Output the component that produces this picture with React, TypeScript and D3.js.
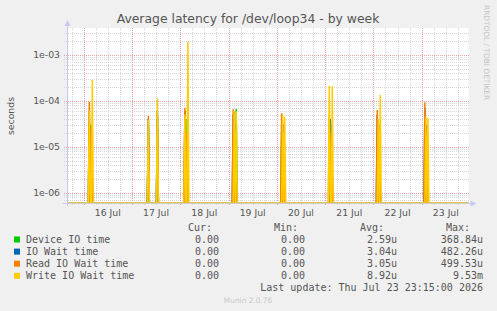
import React from 'react';
import * as d3 from 'd3';

// plot box (pixels)
const W = 497;
const H = 311;
const plot = { left: 67, right: 468.5, top: 28, bottom: 203 };

// time axis
const timeDomain = ['2026-07-15T15:45:00Z', '2026-07-23T23:15:00Z'];
const dayLabels = ['16 Jul', '17 Jul', '18 Jul', '19 Jul', '20 Jul', '21 Jul', '22 Jul', '23 Jul'];
const dayCentres = [
  '2026-07-16T12:00:00Z', '2026-07-17T12:00:00Z', '2026-07-18T12:00:00Z', '2026-07-19T12:00:00Z',
  '2026-07-20T12:00:00Z', '2026-07-21T12:00:00Z', '2026-07-22T12:00:00Z', '2026-07-23T12:00:00Z',
];

// value axis (log)
const yDomain = [5.97e-7, 3.805e-3];
const yTickValues = [1e-6, 1e-5, 1e-4, 1e-3];
const yTickLabels = ['1e-06', '1e-05', '1e-04', '1e-03'];

// legend
const seriesNames = ['Device IO time', 'IO Wait time', 'Read IO Wait time', 'Write IO Wait time'];
const seriesColors = ['#00cc00', '#0066b3', '#ff8000', '#ffcc00'];
const curValues = ['0.00', '0.00', '0.00', '0.00'];
const minValues = ['0.00', '0.00', '0.00', '0.00'];
const avgValues = ['2.59u', '3.04u', '3.05u', '8.92u'];
const maxValues = ['368.84u', '482.26u', '499.53u', '9.53m'];
const lastUpdate = 'Last update: Thu Jul 23 23:15:00 2026';

// non-zero samples (everything else is 0)
const deviceIO: [string, number][] = [
  ['2026-07-16T03:20', 3e-5],
  ['2026-07-17T08:10', 3e-5], ['2026-07-17T12:40', 4e-5],
  ['2026-07-18T02:50', 4e-5],
  ['2026-07-19T03:50', 6.6e-5],
  ['2026-07-20T02:25', 3e-5],
  ['2026-07-21T03:05', 3e-5],
  ['2026-07-22T02:25', 3e-5],
  ['2026-07-23T02:05', 3e-5],
];
const ioWait: [string, number][] = [
  ['2026-07-16T02:50', 6e-5], ['2026-07-16T03:50', 2e-5],
  ['2026-07-17T08:10', 4e-5], ['2026-07-17T12:40', 6e-5],
  ['2026-07-18T02:20', 6e-5], ['2026-07-18T03:20', 2e-5],
  ['2026-07-19T02:20', 5e-5], ['2026-07-19T03:20', 3e-5],
  ['2026-07-20T03:25', 3e-5],
  ['2026-07-21T02:35', 4e-5],
  ['2026-07-22T01:55', 5e-5], ['2026-07-22T02:55', 3e-5],
  ['2026-07-23T01:35', 7e-5], ['2026-07-23T02:35', 3e-5],
];
const readIO: [string, number][] = [
  ['2026-07-16T02:50', 9.5e-5], ['2026-07-16T03:50', 3e-5],
  ['2026-07-17T08:10', 4.7e-5], ['2026-07-17T12:40', 5e-5],
  ['2026-07-18T02:20', 7e-5], ['2026-07-18T03:20', 2e-5],
  ['2026-07-19T02:20', 6.5e-5], ['2026-07-19T03:20', 2e-5],
  ['2026-07-20T02:25', 5.3e-5], ['2026-07-20T03:25', 2e-5],
  ['2026-07-21T02:05', 5e-5], ['2026-07-21T03:05', 2e-5],
  ['2026-07-22T01:55', 6.3e-5], ['2026-07-22T02:55', 2e-5],
  ['2026-07-23T01:35', 9.3e-5], ['2026-07-23T02:35', 2e-5],
];
const writeIO: [string, number][] = [
  ['2026-07-16T02:50', 6e-5], ['2026-07-16T04:20', 2.8e-4],
  ['2026-07-17T08:10', 3.8e-5], ['2026-07-17T12:40', 1.12e-4],
  ['2026-07-18T02:20', 5e-5], ['2026-07-18T03:50', 1.9e-3],
  ['2026-07-19T02:50', 6e-5], ['2026-07-19T03:50', 5.8e-5],
  ['2026-07-20T02:55', 5.2e-5], ['2026-07-20T03:55', 4.4e-5],
  ['2026-07-21T02:05', 2.1e-4], ['2026-07-21T03:35', 2.05e-4],
  ['2026-07-22T02:25', 4e-5], ['2026-07-22T03:25', 1.33e-4],
  ['2026-07-23T02:05', 4.5e-5], ['2026-07-23T03:05', 4.2e-5],
];
const allSeries = [deviceIO, ioWait, readIO, writeIO];

const STEP = 30 * 60 * 1000;
const parse = (s: string) => new Date(s.endsWith('Z') ? s : s + ':00Z');

// sparse samples -> points with zeros around each burst
function toPoints(samples: [string, number][]) {
  const s = samples.map(([t, v]) => ({ t: parse(t), v })).sort((a, b) => +a.t - +b.t);
  const pts: { t: Date; v: number }[] = [{ t: parse(timeDomain[0]), v: 0 }];
  s.forEach((d, i) => {
    const prev = s[i - 1];
    const next = s[i + 1];
    if (!prev || +d.t - +prev.t > STEP) pts.push({ t: new Date(+d.t - STEP), v: 0 });
    pts.push(d);
    if (!next || +next.t - +d.t > STEP) pts.push({ t: new Date(+d.t + STEP), v: 0 });
  });
  pts.push({ t: parse(timeDomain[1]), v: 0 });
  return pts;
}

const font = 'DejaVu Sans, sans-serif';
const mono = 'DejaVu Sans Mono, monospace';

export default function App() {
  const x = d3.scaleUtc()
    .domain(timeDomain.map(parse))
    .range([plot.left, plot.right]);
  const y = d3.scaleLog()
    .domain(yDomain)
    .range([plot.bottom, plot.top])
    .clamp(true);

  const line = d3.line<{ t: Date; v: number }>()
    .x(d => x(d.t))
    .y(d => (d.v > 0 ? y(d.v) : plot.bottom));

  const [t0, t1] = x.domain();
  const sixHours = d3.utcHour.every(6)!.range(t0, t1);
  const minorY = y.ticks().filter(v => !yTickValues.some(m => Math.abs(m - v) / m < 1e-6));

  const crisp = (v: number) => Math.round(v) + 0.5;

  return (
    <svg width={W} height={H} style={{ position: 'absolute', left: 0, top: 0, background: '#f0f0f0' }}>
      <rect x={0} y={0} width={W} height={H} fill="#f0f0f0" />
      <rect x={plot.left} y={plot.top} width={plot.right - plot.left} height={plot.bottom - plot.top} fill="#fff" />

      {/* title */}
      <text x={248} y={23} textAnchor="middle" fontFamily={font} fontSize={12.4} fill="#555">
        Average latency for /dev/loop34 - by week
      </text>
      <text transform="translate(484,5) rotate(90)" fontFamily={font} fontSize={7.4} fill="#c4c4c4">
        RRDTOOL / TOBI OETIKER
      </text>

      {/* grid */}
      <g shapeRendering="crispEdges">
        {minorY.map(v => (
          <line key={'my' + v} x1={plot.left - 3} x2={plot.right + 1} y1={crisp(y(v))} y2={crisp(y(v))}
            stroke="#d8d8d8" strokeDasharray="1,1" />
        ))}
        {sixHours.filter(t => t.getUTCHours() !== 0).map(t => (
          <line key={'mx' + +t} x1={crisp(x(t))} x2={crisp(x(t))} y1={plot.top} y2={plot.bottom + 2}
            stroke="#d8d8d8" strokeDasharray="1,1" />
        ))}
        {yTickValues.map(v => (
          <line key={'My' + v} x1={plot.left - 3} x2={plot.right + 1} y1={crisp(y(v))} y2={crisp(y(v))}
            stroke="#eaa4a4" strokeDasharray="1,1" />
        ))}
        {sixHours.filter(t => t.getUTCHours() === 0).map(t => (
          <line key={'Mx' + +t} x1={crisp(x(t))} x2={crisp(x(t))} y1={plot.top} y2={plot.bottom + 3}
            stroke="#eaa4a4" strokeDasharray="1,1" />
        ))}
      </g>

      {/* series */}
      <defs>
        <clipPath id="plotclip">
          <rect x={plot.left} y={plot.top} width={plot.right - plot.left} height={plot.bottom - plot.top + 1} />
        </clipPath>
      </defs>
      <g clipPath="url(#plotclip)">
        {allSeries.map((s, i) => (
          <path key={i} d={line(toPoints(s)) || ''} fill="none" stroke={seriesColors[i]} strokeWidth={1.5} />
        ))}
      </g>

      {/* axes */}
      <line x1={crisp(plot.left)} x2={crisp(plot.left)} y1={plot.bottom + 3} y2={22} stroke="#c8c8f4" />
      <path d={`M${plot.left - 2.5},26 L${plot.left + 3.5},26 L${plot.left + 0.5},20 Z`} fill="#c8c8f4" />
      <line x1={plot.left - 4} x2={plot.right + 2} y1={crisp(plot.bottom)} y2={crisp(plot.bottom)} stroke="#c8c8f4" />
      <path d={`M${plot.right + 2},${plot.bottom - 2.5} L${plot.right + 2},${plot.bottom + 3.5} L${plot.right + 8},${plot.bottom + 0.5} Z`} fill="#c8c8f4" />
      <line x1={plot.left + 1} x2={plot.right} y1={plot.bottom} y2={plot.bottom} stroke="#d8cc99" strokeWidth={1} />

      {/* tick labels */}
      {yTickValues.map((v, i) => (
        <text key={v} x={60} y={y(v) + 3.3} textAnchor="end" fontFamily={font} fontSize={9.3} fill="#555">
          {yTickLabels[i]}
        </text>
      ))}
      {dayCentres.map((d, i) => (
        <text key={d} x={x(parse(d))} y={216} textAnchor="middle" fontFamily={font} fontSize={9.3} fill="#555">
          {dayLabels[i]}
        </text>
      ))}
      <text transform="translate(14,116) rotate(-90)" textAnchor="middle" fontFamily={font} fontSize={9.3} fill="#555">
        seconds
      </text>

      {/* legend */}
      <g fontFamily={mono} fontSize={10} fill="#555">
        <text x={212} y={231} textAnchor="end">Cur:</text>
        <text x={298} y={231} textAnchor="end">Min:</text>
        <text x={384} y={231} textAnchor="end">Avg:</text>
        <text x={470} y={231} textAnchor="end">Max:</text>
        {seriesNames.map((name, i) => {
          const yy = 243 + i * 12.1;
          return (
            <g key={name}>
              <rect x={14} y={yy - 6.5} width={6} height={6} fill={seriesColors[i]} />
              <text x={26} y={yy}>{name}</text>
              <text x={219} y={yy} textAnchor="end">{curValues[i]}</text>
              <text x={305} y={yy} textAnchor="end">{minValues[i]}</text>
              <text x={397} y={yy} textAnchor="end">{avgValues[i]}</text>
              <text x={483} y={yy} textAnchor="end">{maxValues[i]}</text>
            </g>
          );
        })}
        <text x={483} y={291} textAnchor="end">{lastUpdate}</text>
      </g>
      <text x={248} y={303} textAnchor="middle" fontFamily={font} fontSize={7.4} fill="#c8c8c8">Munin 2.0.76</text>
    </svg>
  );
}
